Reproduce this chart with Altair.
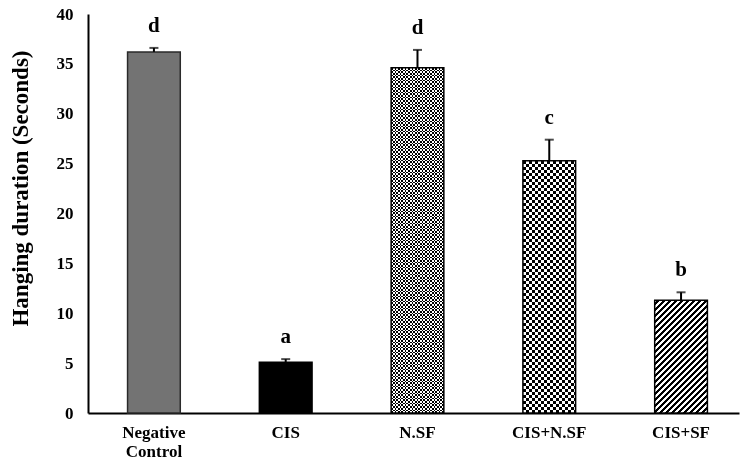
import math
import altair as alt
import pandas as pd

categories = ["Negative Control", "CIS", "N.SF", "CIS+N.SF", "CIS+SF"]
means = [36.2, 5.1, 34.6, 25.3, 11.3]
errors = [0.4, 0.3, 1.8, 2.1, 0.8]
letters = ["d", "a", "d", "c", "b"]
y_ticks = [0, 5, 10, 15, 20, 25, 30, 35, 40]

df = pd.DataFrame({"group": categories, "mean": means, "err": errors, "letter": letters})
df["top"] = df["mean"] + df["err"]

FONT = "Liberation Serif"
W, H = 651, 399
Y_MAX = 40
P_IN, P_OUT, ALIGN = 0.6, 0.27, 0.556
step = W / (len(categories) - P_IN + 2 * P_OUT)
band = step * (1 - P_IN)

x_enc = alt.X("group:N", sort=categories,
              scale=alt.Scale(domain=categories, paddingInner=P_IN, paddingOuter=P_OUT, align=ALIGN),
              axis=alt.Axis(title=None, labelAngle=0, ticks=False, domainWidth=2, domainColor="black",
                            labelFont=FONT, labelFontWeight="bold", labelFontSize=17, labelColor="black",
                            labelPadding=11, labelBaseline="top", labelLineHeight=19,
                            labelExpr="split(datum.label, ' ')"))
y_enc = alt.Y("mean:Q", scale=alt.Scale(domain=[0, Y_MAX], nice=False, zero=True),
              axis=alt.Axis(title="Hanging duration  (Seconds)", values=y_ticks, grid=False, ticks=False,
                            domainWidth=2, domainColor="black", labelFont=FONT, labelFontWeight="bold",
                            labelFontSize=17, labelColor="black", labelPadding=15,
                            titleFont=FONT, titleFontWeight="bold", titleFontSize=23, titleColor="black",
                            titleX=-61, titleY=174, titleBaseline="alphabetic"))


def stripe_stops(length, cell, c1, c2):
    stops = []
    n = int(math.ceil(length / cell))
    for k in range(n):
        col = c1 if k % 2 == 0 else c2
        a = min(k * cell / length, 1.0)
        b = min((k + 1) * cell / length, 1.0)
        stops.append(alt.GradientStop(color=col, offset=a))
        stops.append(alt.GradientStop(color=col, offset=b))
    return stops


def bar_layer(name, **mark_kw):
    return alt.Chart(df).transform_filter(alt.datum.group == name).mark_bar(**mark_kw).encode(x=x_enc, y=y_enc)


def bar_h(name):
    v = means[categories.index(name)]
    return v / Y_MAX * H


layers = []
# Negative control: solid gray
layers.append(bar_layer("Negative Control", fill="#737373", stroke="#2a2a2a", strokeWidth=1.5))
# CIS: solid black
layers.append(bar_layer("CIS", fill="black", stroke="black", strokeWidth=1.5))

# checkerboards (vertical stripes XOR horizontal stripes via difference blend)
for name, cell in [("N.SF", 1.7), ("CIS+N.SF", 3.0)]:
    hh = bar_h(name)
    vgrad = alt.LinearGradient(gradient="linear", x1=0, y1=0, x2=1, y2=0,
                               stops=stripe_stops(band, cell, "black", "white"))
    hgrad = alt.LinearGradient(gradient="linear", x1=0, y1=0, x2=0, y2=1,
                               stops=stripe_stops(hh, cell, "black", "white"))
    layers.append(bar_layer(name, fill=vgrad, strokeWidth=0))
    layers.append(bar_layer(name, fill=hgrad, strokeWidth=0, blend="difference"))
    layers.append(bar_layer(name, filled=False, stroke="black", strokeWidth=1.5))

# diagonal stripes
name = "CIS+SF"
hh = bar_h(name)
L = band + hh
dd = band ** 2 + hh ** 2
dgrad = alt.LinearGradient(gradient="linear", x1=0, y1=0, x2=L * band / dd, y2=L * hh / dd,
                           stops=stripe_stops(L, 3.0, "white", "black"))
layers.append(bar_layer(name, fill=dgrad, strokeWidth=0))
layers.append(bar_layer(name, filled=False, stroke="black", strokeWidth=1.5))

base = alt.Chart(df)
err_rule = base.mark_rule(color="black", strokeWidth=2).encode(x=x_enc, y="mean:Q", y2="top:Q")
err_cap = base.mark_tick(color="black", thickness=2, size=9).encode(x=x_enc, y="top:Q")
text = base.mark_text(font=FONT, fontWeight="bold", fontSize=21, color="black",
                      baseline="alphabetic", dy=-16).encode(x=x_enc, y="top:Q", text="letter:N")

chart = alt.layer(*layers, err_rule, err_cap, text).properties(
    width=W, height=H,
    autosize=alt.AutoSizeParams(type="none"),
    padding={"left": 80, "top": 6, "right": 2, "bottom": 47},
    background="white",
).configure_view(stroke=None)

chart.save("out.html", embed_options={"renderer": "svg", "actions": False})
